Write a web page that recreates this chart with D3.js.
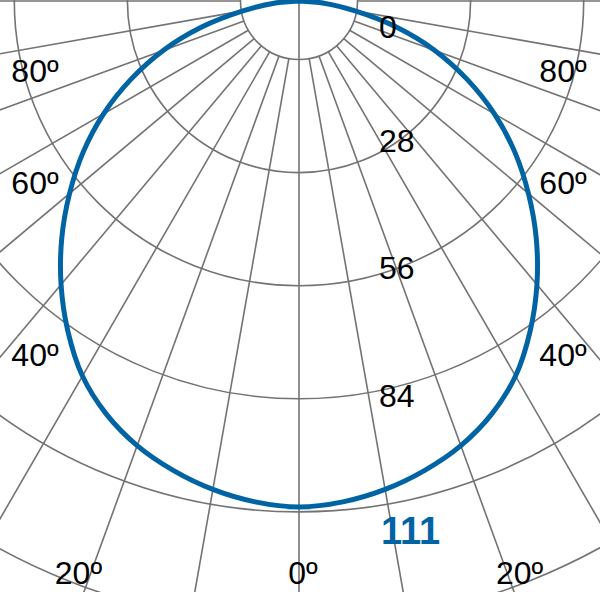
<!DOCTYPE html>
<html>
<head>
<meta charset="utf-8">
<script src="https://cdn.jsdelivr.net/npm/d3@7"></script>
<style>
  html, body { margin: 0; padding: 0; background: #fff; }
  svg { display: block; }
</style>
</head>
<body>
<div id="chart"></div>
<script>
// half profile, symmetric: gamma angle (deg from nadir) -> intensity
const gammaAngles = [0, 5, 10, 15, 20, 25, 30, 35, 40, 45, 50, 55, 60, 65, 70, 75, 80, 85, 90];
const intensity = [111, 110.3, 108.8, 106.6, 103.8, 100.0, 95.0, 88.4, 81.2, 73.6, 65.7, 57.8, 49.5, 40.7, 31.7, 22.1, 12.5, 5.5, 0];
const radialTicks = [0, 28, 56, 84];
const maxValue = 111;
const angleTicks = [0, 20, 40, 60, 80];
const spokeAngles = d3.range(-90, 91, 10);
const ringCount = 6;

const width = 600, height = 592;
const cx = 299, cy = 1;
const blue = "#0064a4";
const gridColor = "#737373";
const font = "Arial, 'Liberation Sans', Helvetica, sans-serif";

const svg = d3.select("#chart")
    .append("svg")
    .attr("width", width)
    .attr("height", height);

svg.append("rect")
    .attr("width", width)
    .attr("height", height)
    .attr("fill", "#fff");

// intensity -> radius for the curve
const r = d3.scaleLinear().domain([0, maxValue]).range([0, 506]);
// grid rings sit on their own even spacing (inner hole + 5 rings)
const ring = d3.scaleLinear().domain([0, ringCount - 1]).range([58.5, 624]);

const toXY = (rad, deg) => {
    const t = deg * Math.PI / 180;
    return [cx + rad * Math.sin(t), cy + rad * Math.cos(t)];
};

const grid = svg.append("g")
    .attr("fill", "none")
    .attr("stroke", gridColor)
    .attr("stroke-width", 1.6);

grid.selectAll("circle")
    .data(d3.range(ringCount))
    .join("circle")
    .attr("cx", cx)
    .attr("cy", cy)
    .attr("r", d => ring(d));

grid.selectAll("line")
    .data(spokeAngles)
    .join("line")
    .attr("x1", d => toXY(d === 0 ? 0 : ring(0), d)[0])
    .attr("y1", d => toXY(d === 0 ? 0 : ring(0), d)[1])
    .attr("x2", d => toXY(900, d)[0])
    .attr("y2", d => toXY(900, d)[1]);

// curve: left 90 -> 0 -> right 90
const pts = gammaAngles.slice().reverse().map((a, i) => [-a, intensity[gammaAngles.length - 1 - i]])
    .concat(gammaAngles.slice(1).map((a, i) => [a, intensity[i + 1]]));

const line = d3.line()
    .x(d => toXY(r(d[1]), d[0])[0])
    .y(d => toXY(r(d[1]), d[0])[1])
    .curve(d3.curveCatmullRom);

svg.append("path")
    .datum(pts)
    .attr("fill", "none")
    .attr("stroke", blue)
    .attr("stroke-width", 5)
    .attr("stroke-linejoin", "round")
    .attr("stroke-linecap", "round")
    .attr("d", line);

// radial value labels
svg.selectAll("text.rad")
    .data(radialTicks)
    .join("text")
    .attr("class", "rad")
    .attr("x", cx + 80)
    .attr("y", d => Math.max(cy + r(d) + 12, 27))
    .attr("dy", "0.35em")
    .attr("font-family", font)
    .attr("font-size", 32)
    .attr("fill", "#000")
    .text(d => d);

svg.append("text")
    .attr("x", cx + 82)
    .attr("y", cy + r(maxValue) + 24)
    .attr("dy", "0.35em")
    .attr("font-family", font)
    .attr("font-size", 38)
    .attr("font-weight", "bold")
    .attr("fill", blue)
    .text(maxValue);

// angle labels: bottom edge for steep spokes, side edges for the rest
const angleLabels = [];
angleTicks.forEach(a => {
    const sides = a === 0 ? [1] : [-1, 1];
    sides.forEach(s => {
        const t = a * Math.PI / 180;
        if (a <= 20) {
            angleLabels.push({ a, x: cx + s * (height + 14) * Math.tan(t) + (a === 0 ? 4 : 0), y: 573 });
        } else {
            angleLabels.push({ a, x: cx + s * 264, y: cy + 280 / Math.tan(t) + 20 });
        }
    });
});

svg.selectAll("text.ang")
    .data(angleLabels)
    .join("text")
    .attr("class", "ang")
    .attr("x", d => d.x)
    .attr("y", d => d.y)
    .attr("dy", "0.35em")
    .attr("text-anchor", "middle")
    .attr("font-family", font)
    .attr("font-size", 32)
    .attr("fill", "#000")
    .text(d => d.a + "\u00BA");
</script>
</body>
</html>
